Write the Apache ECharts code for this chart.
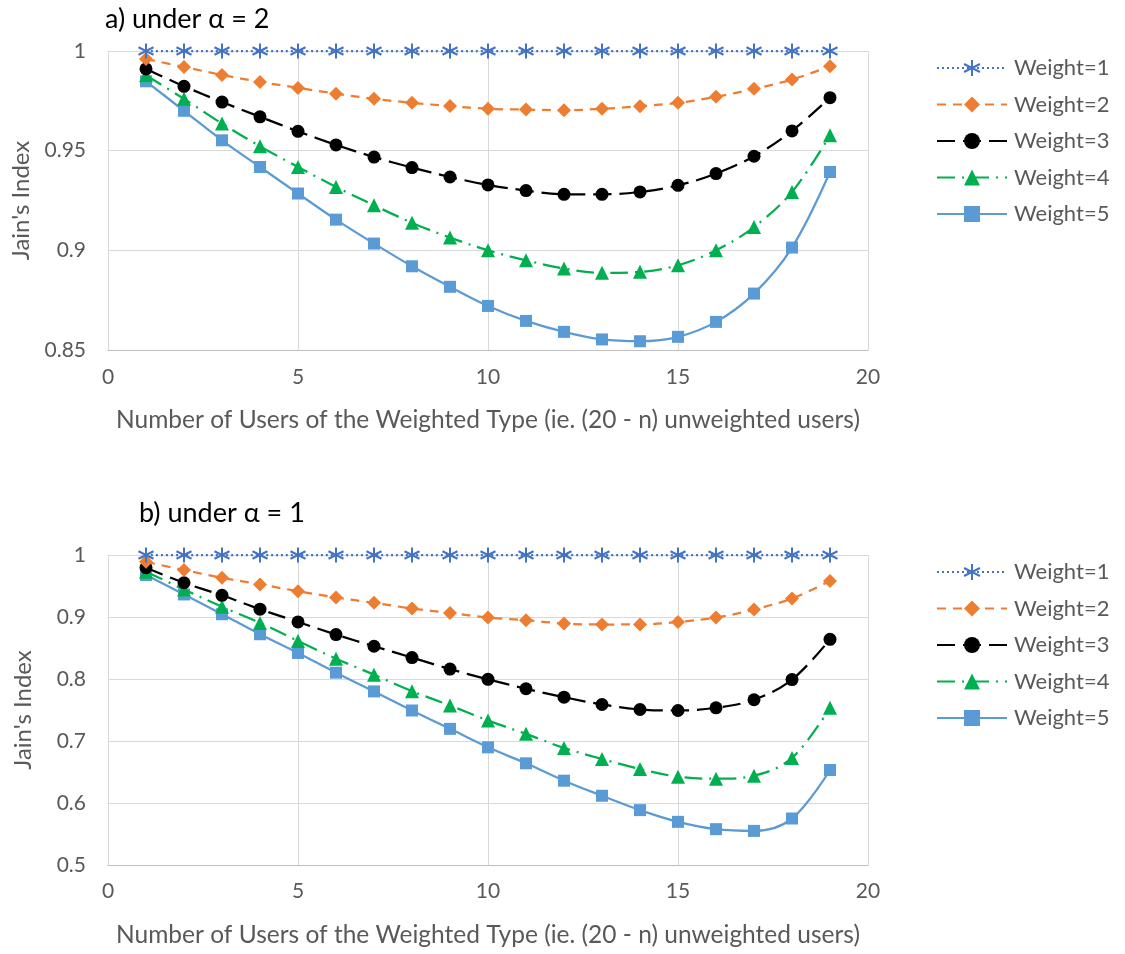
<!DOCTYPE html>
<html>
<head>
<meta charset="utf-8">
<script src="https://cdn.jsdelivr.net/npm/echarts@6/dist/echarts.min.js"></script>
<style>html,body{margin:0;padding:0;background:#fff}#c{width:1125px;height:954px}</style>
</head>
<body>
<div id="c"></div>
<script>
const xValues = [1,2,3,4,5,6,7,8,9,10,11,12,13,14,15,16,17,18,19];
const seriesNames = ['Weight=1','Weight=2','Weight=3','Weight=4','Weight=5'];
const xTicks = [0,5,10,15,20];
const yTicksA = [0.85,0.9,0.95,1];
const yTicksB = [0.5,0.6,0.7,0.8,0.9,1];

// a) under alpha = 2
const a_w1 = [1,1,1,1,1,1,1,1,1,1,1,1,1,1,1,1,1,1,1];
const a_w2 = [0.996,0.992,0.988,0.9845,0.9815,0.9786,0.976,0.974,0.9724,0.971,0.9706,0.9703,0.971,0.9723,0.974,0.977,0.981,0.9857,0.9923];
const a_w3 = [0.991,0.9823,0.9744,0.967,0.9597,0.9529,0.9468,0.9415,0.9368,0.9328,0.930,0.9281,0.9281,0.9293,0.9326,0.9385,0.9472,0.9599,0.9766];
const a_w4 = [0.9878,0.976,0.9636,0.9522,0.9418,0.9318,0.9226,0.9138,0.9064,0.900,0.895,0.8909,0.8887,0.8892,0.8925,0.900,0.9117,0.9293,0.9577];
const a_w5 = [0.9848,0.970,0.9552,0.9418,0.9285,0.9154,0.9034,0.892,0.8817,0.8721,0.8646,0.8591,0.8553,0.8544,0.8566,0.8641,0.8783,0.9014,0.9393];

// b) under alpha = 1
const b_w1 = [1,1,1,1,1,1,1,1,1,1,1,1,1,1,1,1,1,1,1];
const b_w2 = [0.989,0.9757,0.9633,0.9526,0.9417,0.9315,0.9228,0.9137,0.9066,0.899,0.8948,0.8894,0.8879,0.888,0.892,0.899,0.912,0.930,0.958];
const b_w3 = [0.9795,0.9552,0.935,0.9126,0.892,0.8717,0.8528,0.8345,0.816,0.7994,0.7843,0.7707,0.7589,0.7508,0.7492,0.7535,0.7665,0.799,0.864];
const b_w4 = [0.973,0.9445,0.9164,0.8905,0.8613,0.8328,0.807,0.7804,0.7573,0.733,0.7115,0.6888,0.671,0.6548,0.6424,0.6392,0.644,0.6727,0.7536];
const b_w5 = [0.9676,0.9364,0.9045,0.8722,0.842,0.8102,0.78,0.7492,0.7196,0.6898,0.664,0.636,0.6117,0.5885,0.5696,0.5578,0.555,0.575,0.6532];

const FONT = 'Lato';
const GRAY = '#595959';
const GRID = '#D9D9D9';

const styles = [
  {color:'#4472C4', type:[2,3], symbol:'path://M0,-10L0,10M-8.66,-5L8.66,5M-8.66,5L8.66,-5', size:15, stroke:true},
  {color:'#ED7D31', type:[9,7], symbol:'diamond', size:14},
  {color:'#000000', type:[18,8], symbol:'circle', size:13},
  {color:'#00B050', type:[18,7,2,7], symbol:'triangle', size:14},
  {color:'#5B9BD5', type:'solid', symbol:'rect', size:12}
];

function pair(xs, ys){ return xs.map((x,i)=>[x, ys[i]]); }

function makeSeries(dataSets, gi){
  return dataSets.map((d,i)=>{
    const s = styles[i];
    return {
      name: seriesNames[i], type:'line', xAxisIndex:gi, yAxisIndex:gi,
      data: pair(xValues, d), smooth: 0.35, clip:false,
      symbol: s.symbol, symbolSize: s.size,
      lineStyle:{color:s.color, width:2.25, type:s.type, cap:'butt'},
      itemStyle: s.stroke ? {color:'rgba(0,0,0,0)', borderColor:s.color, borderWidth:2}
                          : {color:s.color, borderWidth:0},
      emphasis:{disabled:true}, z: 10 - i
    };
  });
}

function fmt(v){ return String(+v.toFixed(2)); }

const grids = [
  {left:108, top:51, width:760, height:299},
  {left:108, top:555, width:760, height:310}
];

function xAxis(gi, margin){
  return {
    type:'value', gridIndex:gi, min:0, max:20, interval:5,
    name:'Number of Users of the Weighted Type (ie. (20 - n) unweighted users)',
    nameLocation:'middle', nameGap:58,
    nameTextStyle:{fontFamily:FONT, fontSize:24.5, color:GRAY},
    axisLine:{show:true, lineStyle:{color:'#BFBFBF', width:1}},
    axisTick:{show:false},
    axisLabel:{fontFamily:FONT, fontSize:21, color:GRAY, margin:margin, formatter:fmt},
    splitLine:{show:true, lineStyle:{color:GRID, width:1}}
  };
}
function yAxis(gi, min, interval){
  return {
    type:'value', gridIndex:gi, min:min, max:1, interval:interval,
    name:"Jain's Index", nameLocation:'middle', nameGap:73,
    nameTextStyle:{fontFamily:FONT, fontSize:24, color:GRAY},
    axisLine:{show:true, lineStyle:{color:GRID, width:1}},
    axisTick:{show:false},
    axisLabel:{fontFamily:FONT, fontSize:21, color:GRAY, margin:22, formatter:fmt},
    splitLine:{show:true, lineStyle:{color:GRID, width:1}}
  };
}
function legend(top){
  return {
    orient:'vertical', left:931, top:top, itemWidth:70, itemHeight:20, itemGap:14.5,
    textStyle:{fontFamily:FONT, fontSize:22, color:GRAY, padding:[0,0,0,2]},
    data: seriesNames, selectedMode:false
  };
}

const chart = echarts.init(document.getElementById('c'), null, {renderer:'canvas'});
chart.setOption({
  animation:false,
  backgroundColor:'#ffffff',
  title:[
    {text:'a) under α = 2', left:100, top:1, textStyle:{fontFamily:FONT, fontSize:27, fontWeight:'normal', color:'#000'}},
    {text:'b) under α = 1', left:134, top:495, textStyle:{fontFamily:FONT, fontSize:27, fontWeight:'normal', color:'#000'}}
  ],
  grid: grids,
  xAxis:[xAxis(0,17), xAxis(1,16)],
  yAxis:[yAxis(0,0.85,0.05), yAxis(1,0.5,0.1)],
  legend:[legend(52), legend(556)],
  series: makeSeries([a_w1,a_w2,a_w3,a_w4,a_w5],0).concat(makeSeries([b_w1,b_w2,b_w3,b_w4,b_w5],1))
});
</script>
</body>
</html>
